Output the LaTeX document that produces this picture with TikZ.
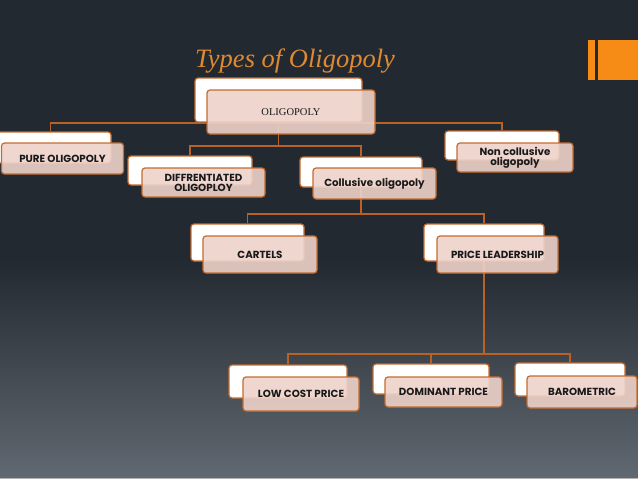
\documentclass[tikz,border=0pt]{standalone}
\usepackage{fontspec}
\setmainfont{Liberation Serif}
\setsansfont{Poppins}
\usetikzlibrary{positioning,calc}

\definecolor{bgtop}{RGB}{35,41,48}
\definecolor{bgmid}{RGB}{54,62,71}
\definecolor{bgbot}{RGB}{96,104,113}
\definecolor{barorange}{RGB}{246,140,22}
\definecolor{titleorange}{RGB}{224,138,48}
\definecolor{boxline}{RGB}{196,108,48}
\definecolor{linkcol}{RGB}{184,98,40}
\definecolor{frontfill}{RGB}{238,210,201}

\begin{document}
\begin{tikzpicture}[
  x=1pt, y=-1pt,
  backbox/.style={draw=boxline, fill=white, rounded corners=3pt, line width=1.2pt, inner sep=0pt},
  frontbox/.style={draw=boxline, fill=frontfill, fill opacity=0.9, text opacity=1, rounded corners=3pt,
                   line width=1.2pt, inner sep=0pt, align=center, text=black!90,
                   font=\sffamily\bfseries\fontsize{10.3}{10}\selectfont},
  link/.style={draw=linkcol, line width=1.8pt}
]
\useasboundingbox (0,0) rectangle (638,479);
% background
\fill[bgtop] (0,0) rectangle (638,260);
\shade[top color=bgtop, middle color=bgmid, bottom color=bgbot] (0,260) rectangle (638,478);
\fill[black!30!white] (0,478) rectangle (638,479);
\fill[barorange] (588,40) rectangle (595,80);
\fill[barorange] (598,40) rectangle (638,80);
\node[anchor=base west, inner sep=0pt, text=titleorange, font=\itshape\fontsize{26.5}{26.5}\selectfont] (title) at (195,67) {Types of Oligopoly};

% back boxes
\node[backbox, minimum width=167pt, minimum height=44pt] (oligB) at (278.5,100) {};
\node[backbox, minimum width=121pt, minimum height=31pt] (pureB) at (50.5,147.5) {};
\node[backbox, minimum width=124pt, minimum height=29pt] (difB) at (190,170.5) {};
\node[backbox, minimum width=122pt, minimum height=30pt] (colB) at (361,172) {};
\node[backbox, minimum width=114pt, minimum height=29pt] (nonB) at (502,145.5) {};
\node[backbox, minimum width=113pt, minimum height=37pt] (cartB) at (247.5,242.5) {};
\node[backbox, minimum width=120pt, minimum height=37pt] (priceB) at (484,242.5) {};
\node[backbox, minimum width=118pt, minimum height=33pt] (lowB) at (288,381.5) {};
\node[backbox, minimum width=116pt, minimum height=30pt] (domB) at (431,379) {};
\node[backbox, minimum width=110pt, minimum height=33pt] (baroB) at (570,379.5) {};

% connectors
\draw[link] (pureB.north) |- (oligB.south) -| (nonB.north);
\draw[link] (oligB.south) -- ++(0,23) coordinate (busA);
\draw[link] (difB.north) |- (busA) -| (colB.north);
\draw[link] (colB.south) -- ++(0,26) coordinate (busB);
\draw[link] (cartB.north) |- (busB) -| (priceB.north);
\draw[link] (priceB.south) -- ++(0,92) coordinate (busC);
\draw[link] (lowB.north) |- (busC) -| (baroB.north);
\draw[link] (busC) -| (domB.north);

% front boxes
\node[frontbox, minimum width=168pt, minimum height=44pt, font=\rmfamily\fontsize{10.5}{10}\selectfont] (oligF) at (291,112) {OLIGOPOLY};
\node[frontbox, minimum width=122pt, minimum height=31pt] (pureF) at (62.5,158.5) {PURE OLIGOPOLY};
\node[frontbox, minimum width=123pt, minimum height=29pt] (difF) at (203.5,182.5) {DIFFRENTIATED\\OLIGOPLOY};
\node[frontbox, minimum width=123pt, minimum height=31pt] (colF) at (374.5,183.5) {Collusive oligopoly};
\node[frontbox, minimum width=116pt, minimum height=29pt] (nonF) at (515,157.5) {Non collusive\\oligopoly};
\node[frontbox, minimum width=114pt, minimum height=37pt] (cartF) at (260,254.5) {CARTELS};
\node[frontbox, minimum width=121pt, minimum height=37pt] (priceF) at (497.5,254.5) {PRICE LEADERSHIP};
\node[frontbox, minimum width=116pt, minimum height=34pt] (lowF) at (301,394) {LOW COST PRICE};
\node[frontbox, minimum width=117pt, minimum height=30pt] (domF) at (443.5,392) {DOMINANT PRICE};
\node[frontbox, minimum width=110pt, minimum height=32pt] (baroF) at (582,392) {BAROMETRIC};
\end{tikzpicture}
\end{document}
